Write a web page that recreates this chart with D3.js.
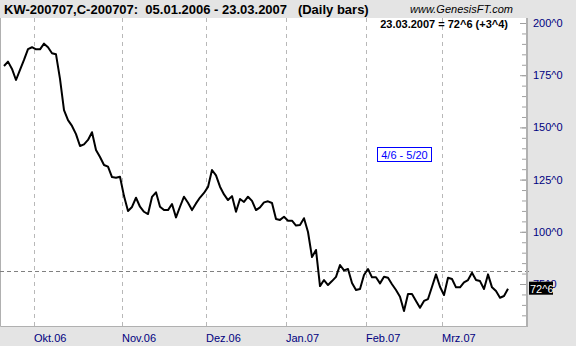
<!DOCTYPE html>
<html>
<head>
<meta charset="utf-8">
<script src="https://cdn.jsdelivr.net/npm/d3@7"></script>
<style>
  body { margin: 0; background: #e4e4e4; }
  text { font-family: Arial, "Liberation Sans", sans-serif; }
</style>
</head>
<body>
<script>
var w = 576;
var h = 346;

// daily closes, from the first visible bar (late Sep 2006) to 23.03.2007
var closes = [
  179.4, 181.5, 178.0, 172.7, 177.5, 182.3, 187.5, 188.4, 187.4, 187.4,
  190.1, 188.4, 185.5, 185.0, 173.2, 158.3, 153.5, 150.7, 146.8, 141.1,
  141.9, 144.0, 147.7, 139.2, 135.8, 132.0, 131.2, 126.2, 125.9, 126.4,
  117.1, 110.0, 111.9, 116.3, 112.0, 109.6, 108.5, 116.7, 118.9, 112.0,
  110.4, 110.4, 113.3, 106.9, 112.0, 116.8, 113.9, 110.4, 113.6, 116.4,
  118.6, 121.5, 129.6, 127.0, 121.6, 117.9, 115.2, 117.1, 109.6, 115.7,
  114.3, 116.8, 114.8, 110.4, 111.7, 114.1, 114.6, 113.8, 106.1, 105.7,
  107.2, 105.3, 105.3, 103.0, 103.3, 106.5, 99.9, 87.9, 91.3, 74.0,
  76.9, 74.5, 76.4, 78.4, 84.1, 81.5, 82.2, 75.5, 72.1, 72.6,
  79.3, 82.2, 78.2, 78.2, 75.3, 78.5, 78.0, 74.9, 72.1, 68.9,
  62.1, 70.2, 70.2, 66.9, 63.6, 66.9, 67.8, 73.7, 79.6, 73.7,
  69.7, 78.0, 77.4, 73.4, 73.4, 75.8, 76.9, 80.4, 76.9, 76.4,
  72.6, 79.6, 73.4, 71.6, 68.4, 69.25, 72.75
];

// first bar of each month
var monthLabels = ["Okt.06", "Nov.06", "Dez.06", "Jan.07", "Feb.07", "Mrz.07"];
var monthStart = [8, 30, 51, 71, 91, 110];

var majorTicks = [75, 100, 125, 150, 175, 200];
var minorTicks = d3.range(60, 201, 5);
var refLevel = 81;

var titleText = "KW-200707,C-200707:  05.01.2006 - 23.03.2007   (Daily bars)";
var lastText = "23.03.2007 = 72^6 (+3^4)";
var lastLabel = "72^6";
var boxText = "4/6 - 5/20";

var plot = { left: 0, top: 18, right: 527, bottom: 326 };

var svg = d3.select("body").append("svg")
  .attr("width", w)
  .attr("height", h);

var x = d3.scaleLinear()
  .domain([0, closes.length - 1])
  .range([4, 508]);

var y = d3.scaleLinear()
  .domain([75, 200])
  .range([284, 23]);

// background
svg.append("rect")
  .attr("width", w)
  .attr("height", h)
  .attr("fill", "#e4e4e4");

svg.append("rect")
  .attr("x", plot.left)
  .attr("y", plot.top)
  .attr("width", plot.right - plot.left)
  .attr("height", plot.bottom - plot.top)
  .attr("fill", "#fff");

// left and bottom border
svg.append("path")
  .attr("d", "M0.5," + plot.top + "V" + (plot.bottom + 0.5) + "H" + plot.right)
  .attr("fill", "none")
  .attr("stroke", "#b0b0b0");

// vertical month gridlines
svg.append("g").selectAll("line")
  .data(monthStart)
  .enter().append("line")
  .attr("x1", d => Math.round(x(d - 0.5)) + 0.5)
  .attr("x2", d => Math.round(x(d - 0.5)) + 0.5)
  .attr("y1", plot.top)
  .attr("y2", plot.bottom)
  .attr("stroke", "#b8b8b8")
  .attr("stroke-dasharray", "4,4");

// month labels
svg.append("g").selectAll("text")
  .data(monthStart)
  .enter().append("text")
  .attr("x", d => x(d - 0.5))
  .attr("y", 342)
  .attr("fill", "#000080")
  .attr("font-size", "11px")
  .text((d, i) => monthLabels[i]);

// reference level
svg.append("line")
  .attr("x1", plot.left)
  .attr("x2", plot.right + 4)
  .attr("y1", Math.round(y(refLevel)) + 0.5)
  .attr("y2", Math.round(y(refLevel)) + 0.5)
  .attr("stroke", "#808080")
  .attr("stroke-dasharray", "4,3");

// y axis on the right, ticks pointing into the plot
var minorAxis = svg.append("g")
  .attr("transform", "translate(" + [plot.right, 0] + ")")
  .call(d3.axisRight(y).tickValues(minorTicks).tickSize(-5).tickFormat(""));

var majorAxis = svg.append("g")
  .attr("transform", "translate(" + [plot.right, 0] + ")")
  .call(d3.axisRight(y).tickValues(majorTicks).tickSize(-7).tickPadding(6)
    .tickFormat(d => d + "^0"));

minorAxis.select(".domain").remove();
majorAxis.select(".domain").remove();
svg.selectAll(".tick line").attr("stroke", "#a0a0a0");
majorAxis.selectAll("text")
  .attr("fill", "#000080")
  .attr("font-size", "11px")
  .attr("font-family", "Arial, 'Liberation Sans', sans-serif");

svg.append("line")
  .attr("x1", plot.right)
  .attr("x2", plot.right)
  .attr("y1", plot.top)
  .attr("y2", plot.bottom + 1)
  .attr("stroke", "#b0b0b0")
  .attr("stroke-width", 2);

// price line
var line = d3.line()
  .x((d, i) => x(i))
  .y(d => y(d));

svg.append("path")
  .datum(closes)
  .attr("d", line)
  .attr("fill", "none")
  .attr("stroke", "#000")
  .attr("stroke-width", 2)
  .attr("stroke-linejoin", "round");

// last value marker
var lastY = y(closes[closes.length - 1]);
svg.append("rect")
  .attr("x", 529)
  .attr("y", lastY - 7)
  .attr("width", 24)
  .attr("height", 13)
  .attr("fill", "#000");

svg.append("text")
  .attr("x", 530)
  .attr("y", lastY + 4)
  .attr("fill", "#fff")
  .attr("font-size", "11px")
  .text(lastLabel);

// title bar
svg.append("text")
  .attr("x", 4)
  .attr("y", 14)
  .attr("font-size", "13px")
  .attr("font-weight", "bold")
  .style("white-space", "pre")
  .text(titleText);

svg.append("text")
  .attr("x", 513)
  .attr("y", 13)
  .attr("text-anchor", "end")
  .attr("font-size", "11px")
  .attr("font-style", "italic")
  .text("www.GenesisFT.com");

svg.append("text")
  .attr("x", 508)
  .attr("y", 28)
  .attr("text-anchor", "end")
  .attr("font-size", "11px")
  .attr("font-weight", "bold")
  .text(lastText);

// spread box
svg.append("rect")
  .attr("x", 377.5)
  .attr("y", 147.5)
  .attr("width", 54)
  .attr("height", 14)
  .attr("fill", "#fff")
  .attr("stroke", "#0000ff");

svg.append("text")
  .attr("x", 404.5)
  .attr("y", 159)
  .attr("text-anchor", "middle")
  .attr("fill", "#0000ff")
  .attr("font-size", "11px")
  .text(boxText);
</script>
</body>
</html>
